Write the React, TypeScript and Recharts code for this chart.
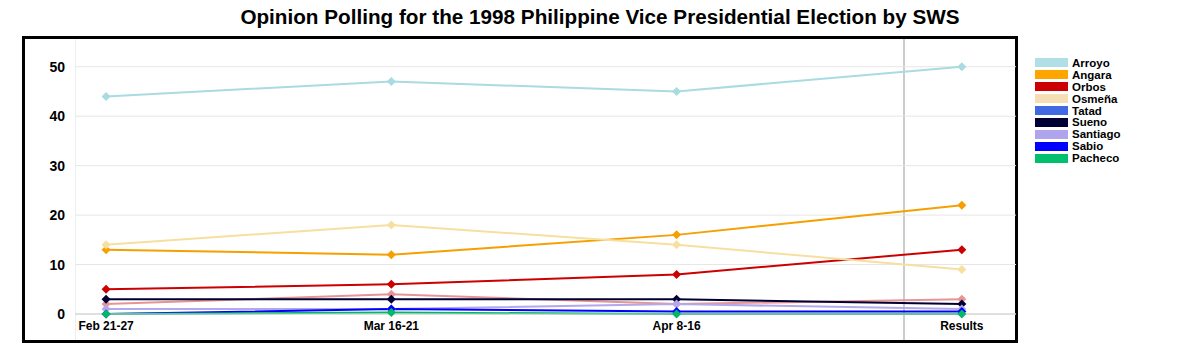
import React from "react";
import { LineChart, Line, XAxis, YAxis, CartesianGrid } from "recharts";

// poll periods
const periods = ["Feb 21-27", "Mar 16-21", "Apr 8-16", "Results"];

// candidate results (%)
const arroyo = [44, 47, 45, 50];
const angara = [13, 12, 16, 22];
const orbos = [5, 6, 8, 13];
const osmena = [14, 18, 14, 9];
const tatad = [2, 4, 2, 3];
const sueno = [3, 3, 3, 2];
const santiago = [1, 1, 2, 1];
const sabio = [0, 1, 0.5, 0.5];
const pacheco = [0, 0.3, 0, 0];

const yTicks = [0, 10, 20, 30, 40, 50];

const series = [
  { key: "Arroyo", values: arroyo, color: "#a9dbe0", swatch: "#b0e0e6" },
  { key: "Angara", values: angara, color: "#f5a000", swatch: "#ffa500" },
  { key: "Orbos", values: orbos, color: "#cc0000", swatch: "#cc0000" },
  { key: "Osmeña", values: osmena, color: "#f7dfa0", swatch: "#f5deb3" },
  { key: "Tatad", values: tatad, color: "#e89494", swatch: "#4169e1" },
  { key: "Sueno", values: sueno, color: "#000033", swatch: "#000033" },
  { key: "Santiago", values: santiago, color: "#b4a8ec", swatch: "#b0a4ec" },
  { key: "Sabio", values: sabio, color: "#0000ff", swatch: "#0000ff" },
  { key: "Pacheco", values: pacheco, color: "#00b868", swatch: "#00c070" },
];

const data = periods.map((p, i) => {
  const row: Record<string, number | string> = { idx: i, label: p };
  series.forEach((s) => {
    row[s.key] = s.values[i];
  });
  return row;
});

const font = "'Liberation Sans', Arial, sans-serif";

// diamond marker
const makeDot = (color: string) => (props: any) => {
  const { cx, cy, key } = props;
  if (cx == null || cy == null) return <g key={key} />;
  const r = 4.5;
  return (
    <path
      key={key}
      d={`M${cx},${cy - r}L${cx + r},${cy}L${cx},${cy + r}L${cx - r},${cy}Z`}
      fill={color}
      stroke="none"
    />
  );
};

const LegendBox = () => (
  <div
    style={{ position: "absolute", left: 1035, top: 57, fontFamily: font }}
  >
    {series.map((s) => (
      <div
        key={s.key}
        style={{ display: "flex", alignItems: "center", height: 11.9 }}
      >
        <div
          style={{ width: 33, height: 9, background: s.swatch, marginRight: 4 }}
        />
        <span style={{ fontSize: 11.5, fontWeight: "bold", color: "#000" }}>
          {s.key}
        </span>
      </div>
    ))}
  </div>
);

export default function App() {
  return (
    <div
      style={{
        position: "absolute",
        left: 0,
        top: 0,
        width: 1200,
        height: 360,
        background: "#fff",
        overflow: "hidden",
      }}
    >
      {/* 标题 */}
      <div
        style={{
          position: "absolute",
          left: 0,
          top: 5,
          width: 1200,
          textAlign: "center",
          fontFamily: font,
          fontWeight: "bold",
          fontSize: 20.7,
          color: "#000",
        }}
      >
        Opinion Polling for the 1998 Philippine Vice Presidential Election by
        SWS
      </div>
      {/* 边框 */}
      <div
        style={{
          position: "absolute",
          left: 22,
          top: 36,
          width: 990,
          height: 301,
          border: "3px solid #000",
        }}
      />
      {/* 竖线 */}
      <div
        style={{
          position: "absolute",
          left: 75,
          top: 39,
          width: 1,
          height: 301,
          background: "#eeeeee",
        }}
      />
      <div
        style={{
          position: "absolute",
          left: 903,
          top: 39,
          width: 2,
          height: 301,
          background: "#cccccc",
        }}
      />
      <div style={{ position: "absolute", left: 0, top: 0 }}>
        <LineChart
          width={1200}
          height={360}
          data={data}
          margin={{ top: 42, right: 184, bottom: 16, left: 0 }}
        >
          <CartesianGrid
            vertical={false}
            stroke="#e6e6e6"
            horizontalValues={yTicks}
          />
          <XAxis
            dataKey="idx"
            type="number"
            domain={[-0.109, 3.19]}
            ticks={[0, 1, 2, 3]}
            tickFormatter={(v: number) => periods[v]}
            axisLine={{ stroke: "#cccccc" }}
            tickLine={false}
            tickSize={0}
            tickMargin={7}
            height={30}
            tick={{
              fontSize: 12,
              fontWeight: "bold",
              fill: "#000",
              fontFamily: font,
            }}
          />
          <YAxis
            type="number"
            domain={[0, 55]}
            ticks={yTicks}
            axisLine={false}
            tickLine={false}
            tickSize={0}
            tickMargin={10}
            width={75}
            tick={{
              fontSize: 14,
              fontWeight: "bold",
              fill: "#000",
              fontFamily: font,
            }}
          />
          {series.map((s) => (
            <Line
              key={s.key}
              dataKey={s.key}
              stroke={s.color}
              strokeWidth={2}
              dot={makeDot(s.color)}
              activeDot={false}
              isAnimationActive={false}
            />
          ))}
        </LineChart>
      </div>
      <LegendBox />
    </div>
  );
}
